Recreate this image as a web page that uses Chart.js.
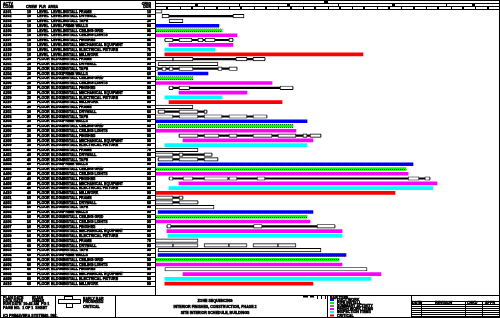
<!DOCTYPE html>
<html><head><meta charset="utf-8">
<script src="https://cdn.jsdelivr.net/npm/chart.js@4.4.1/dist/chart.umd.min.js"></script>
<style>html,body{margin:0;padding:0;background:#fff;overflow:hidden}canvas{display:block}</style>
</head><body>
<canvas id="c" width="500" height="318"></canvas>
<script>
// ---- categories (one per schedule row) ----
const rowCodes = [
 'A101','A102','A103','A104','A105','A106','A107','A108','A109','A110',
 'A201','A202','A203','A204','A205','A206','A207','A208','A209','A210',
 'A301','A302','A303','A304','A305','A306','A307','A308','A309',
 'A401','A402','A403','A404','A405','A406','A407','A408','A409','A410',
 'A501','A502','A503','A504','A505','A506','A507','A508','A509',
 'A601','A602','A603','A604','A605','A606','A607','A608','A609','A610'
];
const groupCrew  = ['10','20','30','40','50','60'];
const groupFloor = ['LEVEL','FLOOR','FLOOR','FLOOR','FLOOR','FLOOR'];
const groupZone  = ['LEVEL','BLDG2','BLDG3','BLDG4','BLDG5','BLDG6'];
const taskDesc = [
 'INSTALL FRAME','INSTALL DRYWALL','INSTALL TAPE','PRIME WALLS',
 'INSTALL CEILING GRID','INSTALL CEILING LIGHTS','INSTALL FINISHES',
 'INSTALL MECHANICAL EQUIPMNT','INSTALL ELECTRICAL FIXTURE','INSTALL MILLWORK'
];
const rowDays = [
 '10','15','20','90','95','99','85','90','75','99',
 '99','99','99','60','50','99','99','90','80','99',
 '60','60','99','99','99','99','99','99','99',
 '70','80','99','99','99','99','99','99','99','99',
 '40','60','99','99','99','99','99','99','99',
 '70','99','99','99','99','99','99','99','99','99'
];
// ---- time axis (months from start) ----
const monthTicks = [0,1,2,3,4,5,6,7,8,9,10,11,12,13,14,15,16,17,18,19,20,21,22,23,24,25,26,27,28];
const periodTicks = [3.25,6.8,10.7,14.85,19.2,23.65,25.75];
const dataDate = [13.85];
// ---- series: [rowIndex, startMonth, endMonth] ----
const summaryBoxes = [
 [0,0,0.57],
 [1,0.57,1.14],[1,6.33,7.22],
 [2,1.14,2.27],
 [6,0.8,1.46],[6,1.95,3.0],[6,3.49,3.9],[6,4.06,4.87],[6,6.0,6.33],
 [10,0,1.46],[10,1.46,3.08],[10,6.57,7.47],[10,7.95,8.93],
 [11,0.25,5.11],
 [12,0,0.25],[12,0.57,0.9],[12,1.14,1.46],[12,1.95,3.08],[12,5.11,5.44],[12,6.0,6.66],
 [16,1.14,1.46],[16,1.95,2.8],[16,10.15,11.2],
 [20,0,3.08],
 [21,0.25,0.8],[21,1.95,3.49],[21,3.98,4.22],
 [22,0,1.46],[22,1.95,3.49],[22,3.98,5.44],[22,6.0,7.47],[22,7.95,9.09],
 [26,1.95,3.49],[26,3.98,5.19],[26,6.0,6.66],[26,7.95,9.5],[26,9.98,11.44],[26,12.01,12.34],[26,12.58,13.47],
 [29,0,3.49],
 [30,0,1.46],[30,1.95,2.27],[30,3.98,4.63],
 [31,0.25,1.46],[31,1.95,3.49],[31,3.98,5.11],
 [35,1.14,1.46],[35,2.27,3.08],[35,3.98,5.93],[35,6.0,6.66],[35,8.28,8.93],[35,20.54,21.43],[35,21.9,22.32],
 [39,0,1.46],[39,1.95,2.27],
 [40,0,1.46],[40,1.95,3.49],
 [41,0,4.79],
 [45,0.97,1.3],[45,8.0,8.69],[45,13.15,14.61],
 [48,0,3.49],
 [49,0,1.46],[49,1.46,3.49],[49,3.98,6.0],[49,6.0,7.47],[49,7.95,9.98],[49,9.98,11.44],
 [50,0.25,13.47],
 [54,0.8,17.21]
];
const summaryLinks = [
 [1,1.14,6.33],[6,0.8,6.33],[10,0,8.93],[12,0,6.66],[16,1.14,11.2],[21,0.25,4.22],
 [22,0,9.09],[26,1.95,13.47],[30,0,4.63],[31,0.25,5.11],[35,1.14,22.32],[39,0,2.27],
 [40,0,3.49],[45,0.97,14.61]
];
const ductBars    = [[3,0,5.19],[13,0.25,4.3],[23,0,12.34],[32,0.25,20.94],[42,0.25,12.82],[51,0.25,15.5]];
const pipeBars    = [[4,0,5.44],[14,0,3.08],[24,0.25,11.2],[33,0,20.37],[43,0,12.34],[52,0,14.94]];
const finishBars  = [[5,0,6.66],[7,1.14,6.33],[15,0,9.5],[17,1.95,7.47],[25,0,11.44],[27,2.27,12.82],
                     [34,0,20.54],[36,1.95,22.89],[44,0,12.58],[46,0.97,15.18],[53,0,15.18],[55,2.27,18.34]];
const inspectBars = [[8,0.8,4.87],[18,0.8,5.44],[28,0.8,12.34],[37,1.14,22.56],[47,1.05,15.18],[56,0.8,17.53]];
const criticalBars= [[9,0.8,16.88],[19,1.14,10.31],[38,0,19.48],[57,0.8,12.82]];

const legendItems = [
 ['DUCT WORK','#0000ff'],['PIPE INSTALL','#00ff00'],['SUMMARY ACTIVITY','#000000'],
 ['FINISH WORK ITEMS','#ff00ff'],['INSPECTION ITEMS','#00ffff'],['CRITICAL','#ff0000']
];

const toPts = arr => arr.map(([r,s,e]) => ({x:[s,e], y:rowCodes[r]}));
const mainCtx = document.getElementById('c').getContext('2d');
function dotted(color){
  const c=document.createElement('canvas'); c.width=4; c.height=3;
  const g=c.getContext('2d'); g.fillStyle=color; g.fillRect(0,0,4,3);
  g.fillStyle='#000'; g.fillRect(0,1,1,1); g.fillRect(2,1,1,1);
  return mainCtx.createPattern(c,'repeat');
}
const FONT = '"Liberation Sans", Arial, sans-serif';

const decor = {
  id:'decor',
  beforeDraw(chart){
    const ctx=chart.ctx; ctx.save(); ctx.fillStyle='#fff'; ctx.fillRect(0,0,500,318); ctx.restore();
  },
  afterDraw(chart){
    const ctx=chart.ctx, xs=chart.scales.x, ys=chart.scales.y, ca=chart.chartArea;
    ctx.save();
    ctx.strokeStyle='#000'; ctx.fillStyle='#000'; ctx.lineWidth=1;
    const L=(x1,y1,x2,y2)=>{ctx.beginPath();ctx.moveTo(x1,y1);ctx.lineTo(x2,y2);ctx.stroke();};
    const T=(s,x,y)=>{ctx.lineWidth=0.45; ctx.strokeText(s,x,y); ctx.fillText(s,x,y); ctx.lineWidth=1;};
    // header timeline
    [0.5,3.5,6.5,9.5].forEach(y=>L(ca.left,y,ca.right,y));
    dataDate.forEach(v=>{const p=Math.round(xs.getPixelForValue(v)); ctx.fillRect(p-2,1,4,2.5);});
    periodTicks.forEach((v,i)=>{const p=Math.round(xs.getPixelForValue(v))+0.5; L(p,3.5,p,6.5); if(i%2===0) ctx.fillRect(p+0.5,4,2,2.5);});
    monthTicks.forEach((v,i)=>{const p=Math.round(xs.getPixelForValue(v))+0.5; L(p,6.5,p,9.5); if(i%2===1) ctx.fillRect(p-1.5,7,2,2);});
    // table
    const h=(ys.getPixelForValue(1)-ys.getPixelForValue(0));
    for(let i=0;i<=rowCodes.length;i++){
      const y=Math.round(ca.top+i*h)+0.5; L(0,y,155,y);
    }
    L(155.5,0,155.5,295);
    ctx.font='bold 3.6px '+FONT; ctx.textBaseline='middle';
    T('ACTV',3,3.5); T('CODE',3,6.8);
    T('CREW  FLR  AREA',26,6.8);
    ctx.textAlign='right'; T('ORIG',151,3.5); T('DUR',151,6.8); ctx.textAlign='left';
    rowCodes.forEach((code,i)=>{
      const y=ys.getPixelForValue(i)+0.2;
      const g=Number(code[1])-1, t=Number(code.slice(2))-1;
      T(code,3,y);
      T(groupCrew[g],27,y);
      T(groupFloor[g],37,y);
      T(groupZone[g],51,y);
      T(taskDesc[t],63,y);
      ctx.textAlign='right'; T(rowDays[i],151,y); ctx.textAlign='left';
    });
    // bottom title block
    L(0,295.5,500,295.5);
    [55.5,115.5,327.5,411.5].forEach(x=>L(x,295.5,x,318));
    T('PLAN DATE',3,297.5); T('01JAN',32,297.5);
    T('DATA DATE',3,300.8); T('15MAR',32,300.8);
    T('RUN DATE  10:45 AM  PG 1',3,304.2);
    T('PAGE NO.  1 OF 1  SHEET',3,307.5);
    T('(C) PRIMAVERA SYSTEMS, INC.',3,315.5);
    // logo
    ctx.strokeRect(58.5,299.5,22,4); ctx.strokeRect(64.5,296.5,8,3); ctx.strokeRect(66.5,303.5,6,4);
    T('EARLY BAR',83,298.5); T('PROGRESS',83,302); T('CRITICAL',83,306.5);
    ctx.textAlign='center';
    T('ZONE SEQUENCING',215,300.7);
    T('INTERIOR FINISHES, CONSTRUCTION, PHASE 2',215,307);
    T('SITE INTERIOR SCHEDULE, BUILDINGS',215,313);
    ctx.textAlign='left';
    // scale marks
    ctx.fillRect(303,296,5,1.5); ctx.fillRect(310,296,4,1.5); [317,321,325].forEach(x=>ctx.fillRect(x,296,1,3));
    // legend
    T('BAR TYPE',330,297.5);
    const ly=[300,303,306,309,312,315.5];
    legendItems.forEach(([t,c],i)=>{
      ctx.fillStyle=c;
      if(c==='#000000') ctx.fillRect(330,ly[i]-0.5,4,1); else ctx.fillRect(330,ly[i]-1,4,2);
      ctx.fillStyle='#000'; T(t,337,ly[i]+0.2);
    });
    // revision table
    L(411.5,301.5,500,301.5);
    [304.5,306.5,308.5,310.5,312.5,314.5,316.5].forEach(y=>L(411.5,y,500,y));
    [421.5,465.5,482.5].forEach(x=>L(x,301.5,x,318));
    T('DATE',412,303); T('REVISION',435,303); T('CHKD',467,303); T('APPR',485,303);
    ctx.strokeRect(0.5,0.5,499,317);
    ctx.restore();
  }
};

const common = {grouped:false, borderSkipped:false, categoryPercentage:1, barPercentage:1};
new Chart(document.getElementById('c'), {
  type:'bar',
  data:{
    labels: rowCodes,
    datasets:[
      {...common, label:'DUCT', data:toPts(ductBars), backgroundColor:dotted('#0000ff'), barThickness:3, borderWidth:0, order:1},
      {...common, label:'PIPE', data:toPts(pipeBars), backgroundColor:dotted('#00ff00'), barThickness:3, borderWidth:0, order:1},
      {...common, label:'FINISH', data:toPts(finishBars), backgroundColor:'#ff00ff', barThickness:3, borderWidth:0, order:1},
      {...common, label:'INSPECT', data:toPts(inspectBars), backgroundColor:'#00ffff', barThickness:3, borderWidth:0, order:1},
      {...common, label:'CRITICAL', data:toPts(criticalBars), backgroundColor:'#ff0000', barThickness:3, borderWidth:0, order:1},
      {...common, label:'SUMMARY', data:toPts(summaryBoxes), backgroundColor:'#ffffff', borderColor:'#000', borderWidth:0.9, barThickness:3.5, order:2},
      {...common, label:'LINK', data:toPts(summaryLinks), backgroundColor:'#000', barThickness:1.5, borderWidth:0, order:3}
    ]
  },
  options:{
    responsive:false, animation:false, devicePixelRatio:1, indexAxis:'y',
    layout:{padding:{left:155,right:0,top:9,bottom:32}},
    scales:{
      x:{type:'linear',min:0,max:28,display:false},
      y:{type:'category',display:false,offset:true}
    },
    plugins:{legend:{display:false},tooltip:{enabled:false}}
  },
  plugins:[decor]
});
</script>
</body></html>
